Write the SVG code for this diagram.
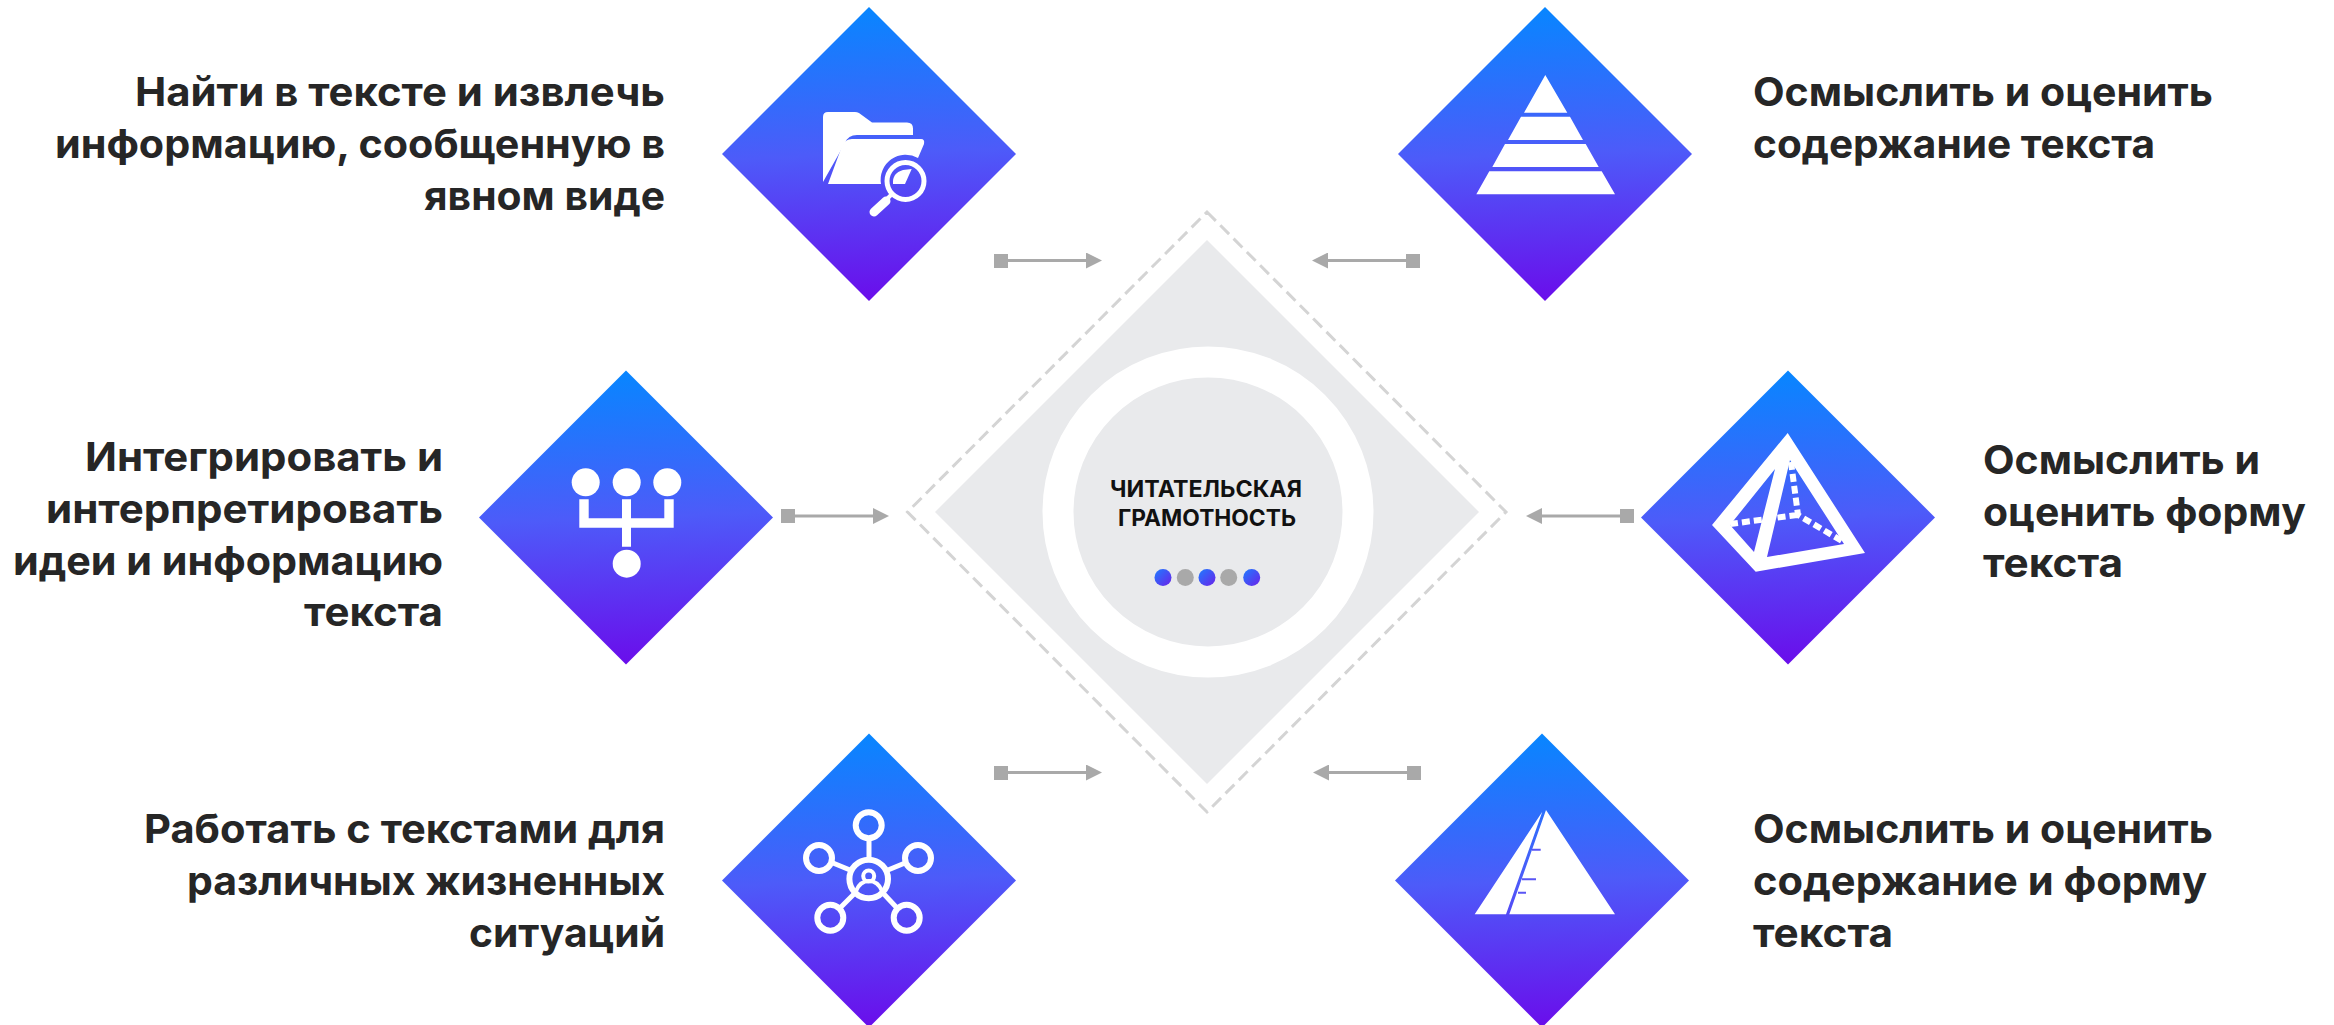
<svg xmlns="http://www.w3.org/2000/svg" width="2334" height="1025" viewBox="0 0 2334 1025">
<defs>
<linearGradient id="g" x1="0.48" y1="0" x2="0.52" y2="1"><stop offset="0" stop-color="#0786ff"/><stop offset="0.5" stop-color="#4d5bf9"/><stop offset="1" stop-color="#6a0deb"/></linearGradient>
<linearGradient id="d" x1="0" y1="0" x2="1" y2="1"><stop offset="0" stop-color="#1f7cff"/><stop offset="1" stop-color="#6a22ea"/></linearGradient>
<polygon id="dia" points="0,-147 147,0 0,147 -147,0" fill="url(#g)"/>
<marker id="arrow" markerUnits="userSpaceOnUse" markerWidth="17" markerHeight="16" refX="0" refY="8" orient="auto"><path d="M0,0L16,8L0,16z" fill="#a9a9a9"/></marker>
</defs>
<style>
.t{font-family:"Inter","Liberation Sans",sans-serif;font-weight:700;font-size:40px;fill:#262626}
.r{text-anchor:end}
.c{font-family:"Inter","Liberation Sans",sans-serif;font-weight:700;font-size:23px;fill:#111;text-anchor:middle}
.w{fill:#fff}
.s{fill:none;stroke:#fff}
.cn{stroke:#a9a9a9;stroke-width:3;fill:none;marker-end:url(#arrow)}
.sq{fill:#a9a9a9}
</style>
<rect width="2334" height="1025" fill="#fff"/>
<g id="center">
<polygon points="1207,212 1506,512 1207,812 907.500,512" fill="none" stroke="#d4d4d4" stroke-width="3" stroke-dasharray="12.500 6.300"/>
<polygon points="1207,240 1479,512 1207,784 935,512" fill="#e9eaec"/>
<circle cx="1208" cy="512" r="150" fill="none" stroke="#fff" stroke-width="31"/>
<text class="c" x="1206" y="497" textLength="192" lengthAdjust="spacingAndGlyphs">ЧИТАТЕЛЬСКАЯ</text>
<text class="c" x="1207" y="526" textLength="178" lengthAdjust="spacingAndGlyphs">ГРАМОТНОСТЬ</text>
<circle cx="1163" cy="577.500" r="8.500" fill="url(#d)"/><circle cx="1185.300" cy="577.500" r="8.500" fill="#a9a9a9"/><circle cx="1207" cy="577.500" r="8.500" fill="url(#d)"/><circle cx="1228.700" cy="577.500" r="8.500" fill="#a9a9a9"/><circle cx="1251.700" cy="577.500" r="8.500" fill="url(#d)"/>
</g>
<g id="connectors">
<rect class="sq" x="994" y="254" width="14" height="14"/><path class="cn" d="M1008,260.500H1086"/>
<rect class="sq" x="1406" y="254" width="14" height="14"/><path class="cn" d="M1406,260.500H1328"/>
<rect class="sq" x="781" y="509" width="14" height="14"/><path class="cn" d="M795,516H873"/>
<rect class="sq" x="1620" y="509" width="14" height="14"/><path class="cn" d="M1620,516H1542"/>
<rect class="sq" x="994" y="766" width="14" height="14"/><path class="cn" d="M1008,772.500H1086"/>
<rect class="sq" x="1407" y="766" width="14" height="14"/><path class="cn" d="M1407,772.500H1329"/>
</g>
<g id="node1">
<use href="#dia" x="869" y="154"/>
<path class="w" d="M823,117q0,-5 5,-5h27q2,0 4,1l13,9.500h35q6,0 6,6v6.500h-56q-9,0 -12,8l-22,39z"/>
<path class="w" d="M828,184L842,146Q845,139 852,139H921Q925,139 924,144L918,158A25,25 0 0 0 881,184z"/>
<circle cx="905.500" cy="181" r="18.500" fill="none" stroke="#fff" stroke-width="5"/>
<path class="w" d="M903,170L911.700,169L905,184H893Q892,173 903,170z"/>
<path class="s" d="M891,195l-5,5" stroke-width="4"/><path class="s" d="M886,201l-12,11" stroke-width="9" stroke-linecap="round"/>
</g>
<g id="node2">
<use href="#dia" x="1545" y="154"/>
<path class="w" d="M1545.300,75L1567.300,112.700H1524z M1521,116.700H1570L1583,140H1508z M1505,144H1585.700L1598.700,167H1492.300z M1489.300,171.300H1601.700L1615,194.300H1476.300z"/>
</g>
<g id="node3">
<use href="#dia" x="626" y="517.500"/>
<circle class="w" cx="585.700" cy="482.300" r="14"/><circle class="w" cx="626.700" cy="482.300" r="14"/><circle class="w" cx="667.300" cy="482.300" r="14"/><circle class="w" cx="626.700" cy="563.700" r="14"/>
<path class="w" d="M579.300,499.300H588.700V518.300H664.300V499.300H673.700V527.700H631V546.700H622V527.700H579.300z M622,499.300H631V518.300H622z"/>
</g>
<g id="node4">
<use href="#dia" x="1788" y="517.500"/>
<path class="w" fill-rule="evenodd" d="M1787.700,433L1712,525L1755.700,571.700L1865,553z M1775,469L1730,525L1754,552z M1790,460L1844,544L1767,557z"/>
<path class="s" d="M1730,524L1797,515M1791,462L1798,515L1842,541" stroke-width="6" stroke-dasharray="8 4"/>
</g>
<g id="node5">
<use href="#dia" x="869" y="880.500"/>
<g class="s" stroke-width="6"><circle cx="868.700" cy="825.300" r="13"/><circle cx="819" cy="858" r="13"/><circle cx="918" cy="858" r="13"/><circle cx="830.300" cy="917.700" r="13"/><circle cx="906.700" cy="917.700" r="13"/><circle cx="868.700" cy="879" r="19.300"/><circle cx="868.700" cy="876" r="5.500" stroke-width="4"/><path d="M856,891q4,-10 13,-10q9,0 13,10" stroke-width="4"/>
<path d="M869,841V858M833,863L850,870M905,863L888,870M840,908L856,892M897,908L882,892" stroke-width="5"/></g>
</g>
<g id="node6">
<use href="#dia" x="1542" y="880.500"/>
<path class="w" d="M1474.700,914.300L1542.300,811.700L1506,914.300z M1509.300,914.300L1546,810L1615,914.300z"/>
<path class="s" d="M1532,849.700H1540.700M1522,879.300H1536M1518,892.700H1526" stroke-width="2" style="stroke:#5a55f5"/>
</g>
<g id="labels">
<text class="t r" x="665" y="106" textLength="530" lengthAdjust="spacingAndGlyphs">Найти в тексте и извлечь</text>
<text class="t r" x="665" y="158" textLength="610" lengthAdjust="spacingAndGlyphs">информацию, сообщенную в</text>
<text class="t r" x="665" y="210" textLength="241" lengthAdjust="spacingAndGlyphs">явном виде</text>
<text class="t r" x="443" y="471" textLength="358" lengthAdjust="spacingAndGlyphs">Интегрировать и</text>
<text class="t r" x="443" y="523" textLength="397" lengthAdjust="spacingAndGlyphs">интерпретировать</text>
<text class="t r" x="443" y="575" textLength="430" lengthAdjust="spacingAndGlyphs">идеи и информацию</text>
<text class="t r" x="443" y="626" textLength="139" lengthAdjust="spacingAndGlyphs">текста</text>
<text class="t r" x="665" y="843" textLength="521" lengthAdjust="spacingAndGlyphs">Работать с текстами для</text>
<text class="t r" x="665" y="895" textLength="478" lengthAdjust="spacingAndGlyphs">различных жизненных</text>
<text class="t r" x="665" y="947" textLength="196" lengthAdjust="spacingAndGlyphs">ситуаций</text>
<text class="t" x="1753" y="106" textLength="460" lengthAdjust="spacingAndGlyphs">Осмыслить и оценить</text>
<text class="t" x="1753" y="158" textLength="402" lengthAdjust="spacingAndGlyphs">содержание текста</text>
<text class="t" x="1983" y="474" textLength="277" lengthAdjust="spacingAndGlyphs">Осмыслить и</text>
<text class="t" x="1983" y="526" textLength="323" lengthAdjust="spacingAndGlyphs">оценить форму</text>
<text class="t" x="1983" y="577" textLength="140" lengthAdjust="spacingAndGlyphs">текста</text>
<text class="t" x="1753" y="843" textLength="460" lengthAdjust="spacingAndGlyphs">Осмыслить и оценить</text>
<text class="t" x="1753" y="895" textLength="454" lengthAdjust="spacingAndGlyphs">содержание и форму</text>
<text class="t" x="1753" y="947" textLength="140" lengthAdjust="spacingAndGlyphs">текста</text>
</g>
</svg>
